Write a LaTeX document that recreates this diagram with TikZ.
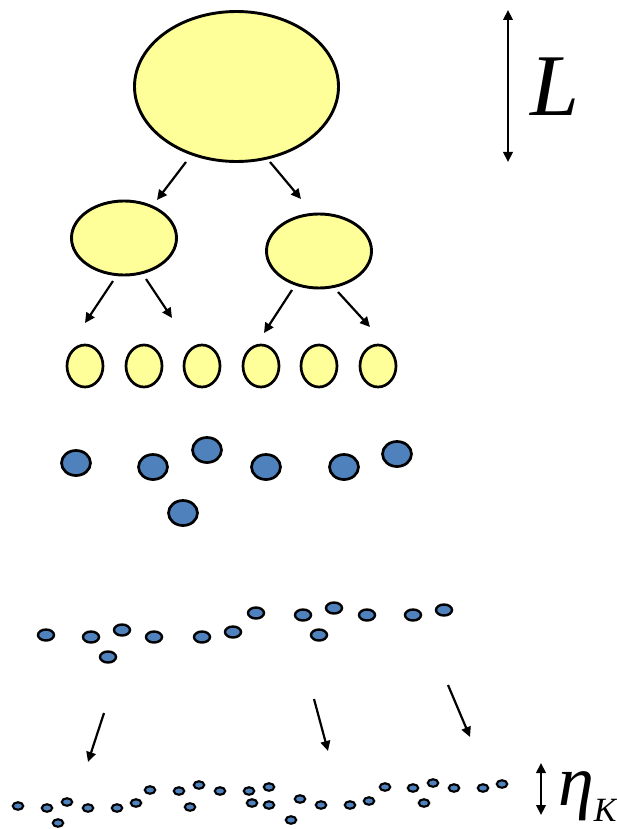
\documentclass[tikz,border=0pt]{standalone}
\usepackage{fontspec}
\setmainfont{Liberation Serif}
\usetikzlibrary{shapes.geometric,arrows.meta}
\definecolor{eddyyellow}{HTML}{FFFF99}
\definecolor{eddyblue}{HTML}{4F81BD}
\begin{document}
\begin{tikzpicture}[x=1pt,y=-1pt,
  eddy/.style={ellipse,draw=black,inner sep=0pt,outer sep=0pt},
  yeddy/.style={eddy,fill=eddyyellow,line width=2.9pt},
  beddy/.style={eddy,fill=eddyblue,line width=2.7pt,minimum width=29pt,minimum height=25pt},
  sdot/.style={eddy,fill=eddyblue,line width=2.4pt,minimum width=16pt,minimum height=11pt},
  tdot/.style={eddy,fill=eddyblue,line width=2.1pt,minimum width=10.5pt,minimum height=7.5pt},
  cascade/.style={-{Triangle[length=10pt,width=9.5pt]},line width=2.2pt},
  scalebar/.style={{Triangle[length=10pt,width=9.5pt]}-{Triangle[length=10pt,width=9.5pt]},line width=2.2pt}]
\useasboundingbox (0,0) rectangle (617,829);

% largest eddy and the first split
\node[yeddy,minimum width=204pt,minimum height=150pt] (top) at (236.5,86.5) {};
\node[yeddy,minimum width=105pt,minimum height=74pt] (midL) at (124,238) {};
\node[yeddy,minimum width=105pt,minimum height=74pt] (midR) at (319,251) {};

\coordinate (a1s) at (186,162); \coordinate (a1e) at (157,200);
\coordinate (a2s) at (270,162); \coordinate (a2e) at (301,199);
\draw[cascade] (a1s) -- (a1e);
\draw[cascade] (a2s) -- (a2e);

% second split
\coordinate (b1s) at (113,281); \coordinate (b1e) at (85,323);
\coordinate (b2s) at (146,279); \coordinate (b2e) at (172,318);
\coordinate (b3s) at (292,290); \coordinate (b3e) at (264,333);
\coordinate (b4s) at (338,292); \coordinate (b4e) at (370,327);
\draw[cascade] (b1s) -- (b1e);
\draw[cascade] (b2s) -- (b2e);
\draw[cascade] (b3s) -- (b3e);
\draw[cascade] (b4s) -- (b4e);

% third generation
\foreach \x [count=\i] in {85,144,202,261,319,378}
  \node[yeddy,line width=2.7pt,minimum width=36pt,minimum height=42pt] (small\i) at (\x,366) {};

% blue eddies
\foreach \x/\y [count=\i] in {76/463,153/467,207/450,266/467,344/467,397/454,183/513}
  \node[beddy] (blue\i) at (\x,\y) {};

% smaller blue eddies
\foreach \x/\y [count=\i] in {46/635,91/637,122/630,154/637,108/657,202/637,233/632,256/613,
                              303/615,334/608,319/635,367/615,413/615,444/610}
  \node[sdot] (sb\i) at (\x,\y) {};

% arrows towards the dissipation range
\coordinate (c1s) at (104,713); \coordinate (c1e) at (88,762);
\coordinate (c2s) at (314,699); \coordinate (c2e) at (328,751);
\coordinate (c3s) at (448,685); \coordinate (c3e) at (470,737);
\draw[cascade] (c1s) -- (c1e);
\draw[cascade] (c2s) -- (c2e);
\draw[cascade] (c3s) -- (c3e);

% smallest eddies
\foreach \x/\y [count=\i] in {18/806,47/808,58/823,67/802,88/808,117/808,136/803,150/790,
                              179/791,190/807,199/785,220/791,249/791,252/803,269/787,269/805,
                              291/820,300/799,321/805,350/805,369/801,385/787,413/788,424/803,
                              433/783,454/788,483/788,502/784}
  \node[tdot] (td\i) at (\x,\y) {};

% scale markers
\coordinate (Ltop) at (508,10); \coordinate (Lbot) at (508,162);
\draw[scalebar] (Ltop) -- (Lbot);
\node (Llabel) at (555,87) {\fontsize{88}{88}\selectfont\itshape L};

\coordinate (etop) at (541,763); \coordinate (ebot) at (541,815);
\draw[scalebar] (etop) -- (ebot);
\node[anchor=base west,inner sep=0pt] (etalabel) at (558,805)
  {\fontsize{72}{72}\selectfont\itshape η\raisebox{-16pt}{\fontsize{34}{34}\selectfont K}};
\end{tikzpicture}
\end{document}
